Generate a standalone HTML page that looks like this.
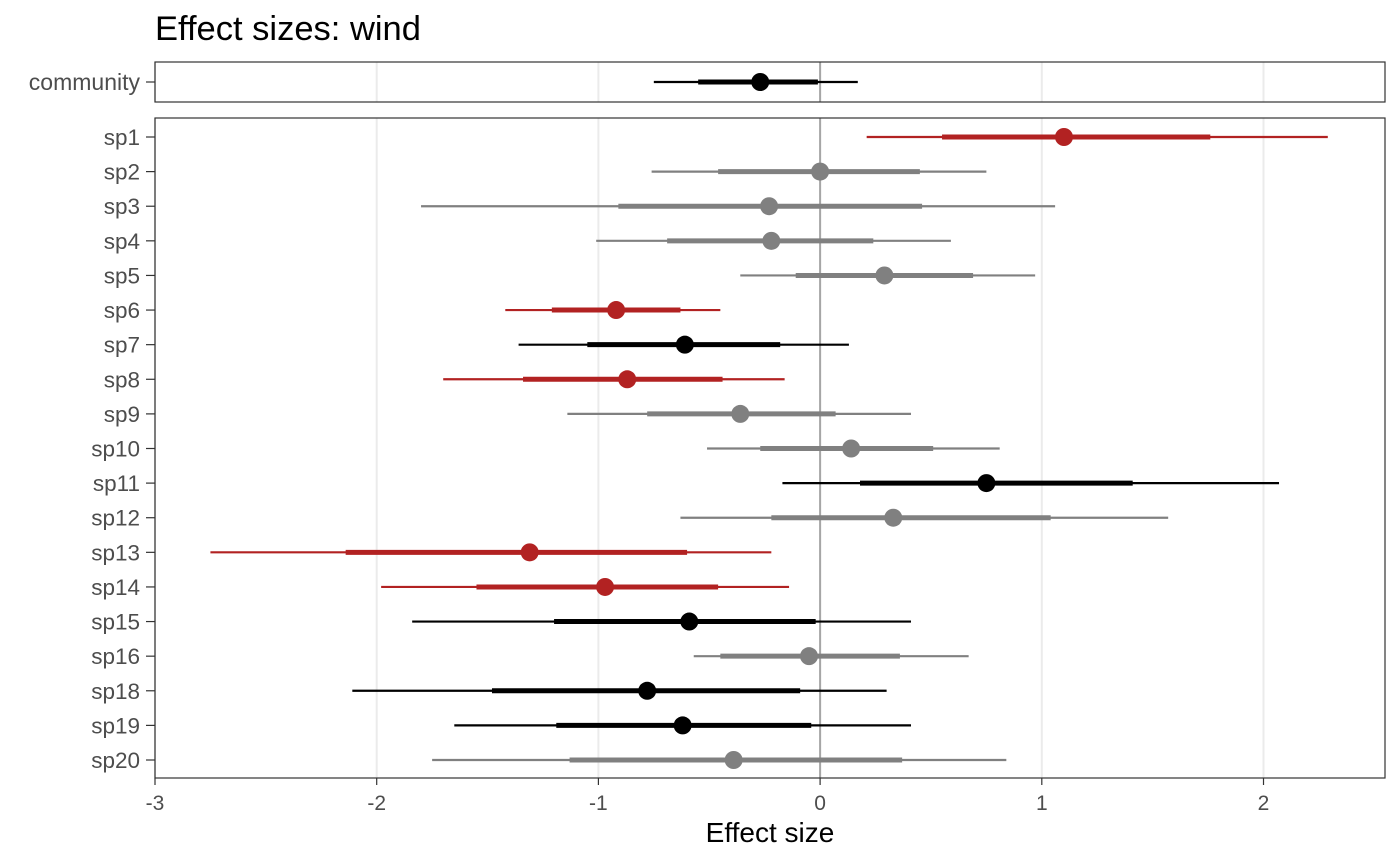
<!DOCTYPE html>
<html><head><meta charset="utf-8">
<style>
html,body{margin:0;padding:0;background:#fff;}
svg{display:block;font-family:"Liberation Sans",Arial,sans-serif;}
</style></head>
<body>
<svg id="chart" width="1400" height="865">
<text x="155" y="40" font-size="34.5" fill="#000">Effect sizes: wind</text>
<text x="770" y="842" font-size="28" text-anchor="middle" fill="#000">Effect size</text>
</svg>
<script>
const species = ["sp1","sp2","sp3","sp4","sp5","sp6","sp7","sp8","sp9","sp10","sp11","sp12","sp13","sp14","sp15","sp16","sp18","sp19","sp20"];
const lo95 = [0.21,-0.76,-1.80,-1.01,-0.36,-1.42,-1.36,-1.70,-1.14,-0.51,-0.17,-0.63,-2.75,-1.98,-1.84,-0.57,-2.11,-1.65,-1.75];
const lo50 = [0.55,-0.46,-0.91,-0.69,-0.11,-1.21,-1.05,-1.34,-0.78,-0.27,0.18,-0.22,-2.14,-1.55,-1.20,-0.45,-1.48,-1.19,-1.13];
const est  = [1.10,0.00,-0.23,-0.22,0.29,-0.92,-0.61,-0.87,-0.36,0.14,0.75,0.33,-1.31,-0.97,-0.59,-0.05,-0.78,-0.62,-0.39];
const hi50 = [1.76,0.45,0.46,0.24,0.69,-0.63,-0.18,-0.44,0.07,0.51,1.41,1.04,-0.60,-0.46,-0.02,0.36,-0.09,-0.04,0.37];
const hi95 = [2.29,0.75,1.06,0.59,0.97,-0.45,0.13,-0.16,0.41,0.81,2.07,1.57,-0.22,-0.14,0.41,0.67,0.30,0.41,0.84];
const signif = ["pos","none","none","none","none","neg","mid","neg","none","none","mid","none","neg","neg","mid","none","mid","mid","none"];
const community = [-0.75,-0.55,-0.27,-0.01,0.17];
const xTicks = [-3,-2,-1,0,1,2];

const svg = document.getElementById('chart');
const NS = "http://www.w3.org/2000/svg";
const X0 = 155, X1 = 1385, xmin = -3, xmax = 2.548;
const xs = v => X0 + (v - xmin) / (xmax - xmin) * (X1 - X0);
const mainTop = 118, mainBot = 778, rowFirst = 137, rowLast = 760;
const ys = i => rowFirst + i * (rowLast - rowFirst) / (species.length - 1);
const colorOf = s => s === "neg" || s === "pos" ? "#b22222" : s === "none" ? "#808080" : "#000";
function mk(tag, attrs, parent) {
  const e = document.createElementNS(NS, tag);
  for (const k in attrs) e.setAttribute(k, attrs[k]);
  (parent || svg).appendChild(e);
  return e;
}
function panel(y0, y1, name) {
  const g = mk('g', {});
  
  
  xTicks.forEach(t => {
    const l = mk('line', {x1: xs(t), x2: xs(t), y1: y0, y2: y1, stroke: '#ebebeb', 'stroke-width': 2}, g);
    
    
  });
  const z = mk('line', {x1: xs(0), x2: xs(0), y1: y0, y2: y1, stroke: '#a6a6a6', 'stroke-width': 2}, g);
  
  
  return g;
}
function interval(g, y, vals, color, name) {
  const r = mk('g', {}, g);
  
  
  mk('line', {x1: xs(vals[0]), x2: xs(vals[4]), y1: y, y2: y, stroke: color, 'stroke-width': 2.2}, r);
  mk('line', {x1: xs(vals[1]), x2: xs(vals[3]), y1: y, y2: y, stroke: color, 'stroke-width': 5}, r);
  mk('circle', {cx: xs(vals[2]), cy: y, r: 9, fill: color}, r);
}
const gc = panel(62, 102, 'community-panel');
interval(gc, 82, community, '#000', 'community-interval');
mk('rect', {x: X0, y: 62, width: X1 - X0, height: 40, fill: 'none', stroke: '#333', 'stroke-width': 1.2}, gc);
const cl = mk('text', {x: 140, y: 90, 'font-size': 23, 'text-anchor': 'end', fill: '#4d4d4d'});
cl.textContent = 'community';


mk('line', {x1: 146, x2: 155, y1: 82, y2: 82, stroke: '#333', 'stroke-width': 1.2});
const gm = panel(mainTop, mainBot, 'species-panel');
species.forEach((s, i) => {
  interval(gm, ys(i), [lo95[i], lo50[i], est[i], hi50[i], hi95[i]], colorOf(signif[i]), 'interval-' + s);
  const t = mk('text', {x: 140, y: ys(i) + 8, 'font-size': 22.5, 'text-anchor': 'end', fill: '#4d4d4d'});
  t.textContent = s;
  
  
  mk('line', {x1: 146, x2: 155, y1: ys(i), y2: ys(i), stroke: '#333', 'stroke-width': 1.2});
});
mk('rect', {x: X0, y: mainTop, width: X1 - X0, height: mainBot - mainTop, fill: 'none', stroke: '#333', 'stroke-width': 1.2}, gm);
xTicks.forEach(t => {
  mk('line', {x1: xs(t), x2: xs(t), y1: mainBot, y2: mainBot + 7, stroke: '#333', 'stroke-width': 1.2});
  const l = mk('text', {x: xs(t), y: 810, 'font-size': 21, 'text-anchor': 'middle', fill: '#4d4d4d'});
  l.textContent = t;
  
  
});
</script>
</body></html>
